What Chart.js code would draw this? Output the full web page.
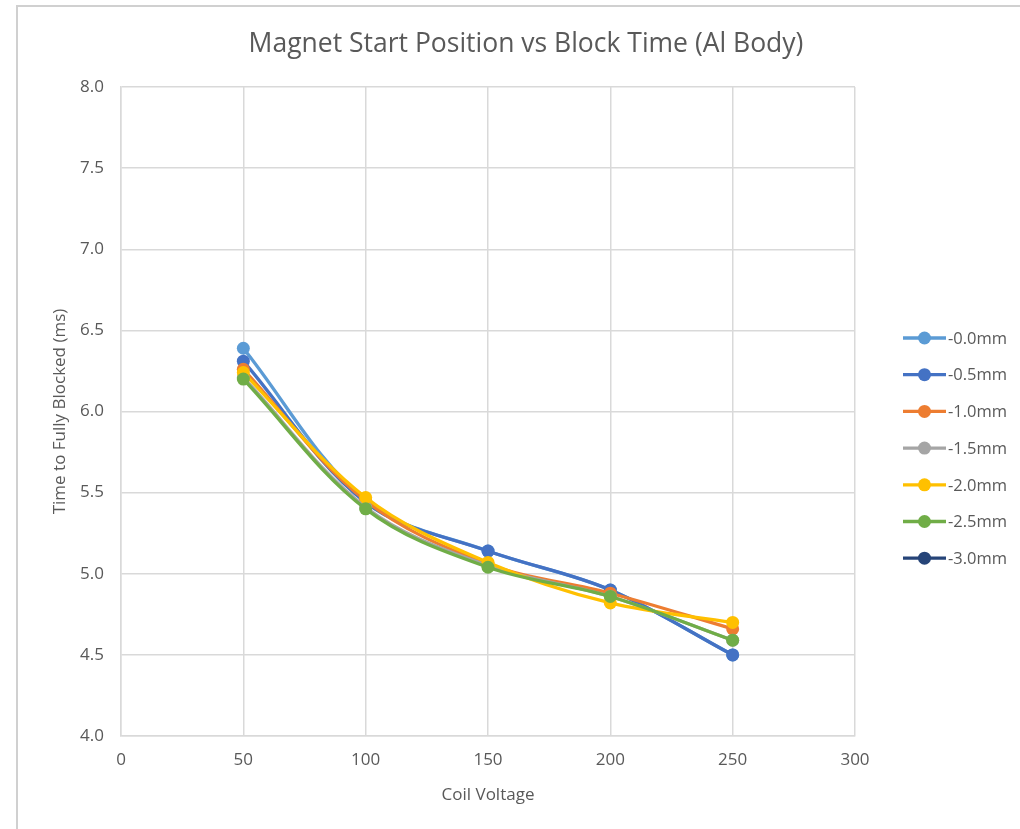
<!DOCTYPE html>
<html>
<head>
<meta charset="utf-8">
<script src="https://cdn.jsdelivr.net/npm/chart.js@4.4.1/dist/chart.umd.min.js"></script>
<style>
  html, body { margin: 0; padding: 0; background: #ffffff; }
  #wrap { width: 1020px; height: 829px; position: relative; }
</style>
</head>
<body>
<div id="wrap"><canvas id="c" width="1020" height="829"></canvas></div>
<script>
// Coil voltage settings (x values)
const voltages = [50, 100, 150, 200, 250];

// Magnet start positions
const seriesNames = ['-0.0mm', '-0.5mm', '-1.0mm', '-1.5mm', '-2.0mm', '-2.5mm', '-3.0mm'];

// Time to fully blocked (ms) for each start position
const pos00 = [6.39, 5.45, 5.14, 4.90, 4.50];
const pos05 = [6.31, 5.44, 5.14, 4.90, 4.50];
const pos10 = [6.26, 5.45, 5.06, 4.88, 4.66];
const pos15 = [6.21, 5.41, 5.05, 4.86, 4.59];
const pos20 = [6.24, 5.47, 5.07, 4.82, 4.70];
const pos25 = [6.20, 5.40, 5.04, 4.86, 4.59];
const pos30 = [null, null, null, null, null];

const seriesValues = [pos00, pos05, pos10, pos15, pos20, pos25, pos30];
const seriesColors = ['#5B9BD5', '#4472C4', '#ED7D31', '#A5A5A5', '#FFC000', '#70AD47', '#264478'];

// Axis ticks
const xTicks = [0, 50, 100, 150, 200, 250, 300];
const yTicks = [4.0, 4.5, 5.0, 5.5, 6.0, 6.5, 7.0, 7.5, 8.0];

const titleText = 'Magnet Start Position vs Block Time (Al Body)';
const xTitle = 'Coil Voltage';
const yTitle = 'Time to Fully Blocked (ms)';

const FONT = "'Open Sans', 'Liberation Sans', sans-serif";
const TEXT = '#595959';
const GRID = '#d9d9d9';

const datasets = seriesNames.map((name, i) => ({
  label: name,
  data: voltages.map((v, j) => ({ x: v, y: seriesValues[i][j] })),
  borderColor: seriesColors[i],
  backgroundColor: seriesColors[i],
  borderWidth: 3.3,
  pointRadius: 6.5,
  pointHoverRadius: 6.5,
  pointBorderWidth: 0,
  tension: 0.35,
  spanGaps: false,
  // later series are painted over earlier ones
  order: seriesNames.length - i
}));

// Outer frame, title and right-hand legend
const decor = {
  id: 'decor',
  beforeDraw(chart) {
    const ctx = chart.ctx;
    ctx.save();
    ctx.fillStyle = '#ffffff';
    ctx.fillRect(0, 0, chart.width, chart.height);
    ctx.strokeStyle = '#d0d0d0';
    ctx.lineWidth = 2;
    ctx.beginPath();
    ctx.moveTo(17, chart.height);
    ctx.lineTo(17, 6);
    ctx.lineTo(chart.width, 6);
    ctx.stroke();
    ctx.restore();
  },
  afterDraw(chart) {
    const ctx = chart.ctx;
    ctx.save();
    ctx.fillStyle = TEXT;
    ctx.font = '26.5px ' + FONT;
    ctx.textAlign = 'center';
    ctx.textBaseline = 'middle';
    ctx.fillText(titleText, 526, 44);

    ctx.font = '16.5px ' + FONT;
    ctx.textAlign = 'left';
    const x0 = 903, x1 = 946, top = 338, step = 36.7;
    chart.data.datasets.forEach((ds, i) => {
      const y = top + i * step;
      ctx.strokeStyle = ds.borderColor;
      ctx.lineWidth = 3.3;
      ctx.beginPath();
      ctx.moveTo(x0, y);
      ctx.lineTo(x1, y);
      ctx.stroke();
      ctx.fillStyle = ds.backgroundColor;
      ctx.beginPath();
      ctx.arc((x0 + x1) / 2, y, 6.5, 0, Math.PI * 2);
      ctx.fill();
      ctx.fillStyle = TEXT;
      ctx.fillText(ds.label, 948, y + 1);
    });
    ctx.restore();
  }
};

new Chart(document.getElementById('c'), {
  type: 'line',
  data: { datasets },
  options: {
    responsive: false,
    animation: false,
    events: [],
    layout: { padding: { left: 46, top: 87, right: 165, bottom: 20 } },
    plugins: {
      legend: { display: false },
      title: { display: false },
      tooltip: { enabled: false }
    },
    scales: {
      x: {
        type: 'linear',
        min: 0, max: 300,
        afterBuildTicks: (axis) => { axis.ticks = xTicks.map(v => ({ value: v })); },
        afterFit: (axis) => { axis.height = 73; },
        grid: { color: GRID, lineWidth: 1.5, drawTicks: false },
        border: { color: GRID, width: 1.5 },
        ticks: { color: TEXT, font: { family: FONT, size: 17 }, padding: 14 },
        title: { display: true, text: xTitle, color: TEXT, font: { family: FONT, size: 17 }, padding: { top: 4, bottom: 4 } }
      },
      y: {
        type: 'linear',
        min: 4, max: 8,
        afterBuildTicks: (axis) => { axis.ticks = yTicks.map(v => ({ value: v })); },
        afterFit: (axis) => { axis.width = 121 - 46; },
        grid: { color: GRID, lineWidth: 1.5, drawTicks: false },
        border: { color: GRID, width: 1.5 },
        ticks: { color: TEXT, font: { family: FONT, size: 17 }, padding: 17, callback: (v) => Number(v).toFixed(1) },
        title: { display: true, text: yTitle, color: TEXT, font: { family: FONT, size: 17 }, padding: { top: 4, bottom: 4 } }
      }
    }
  },
  plugins: [decor]
});
</script>
</body>
</html>
